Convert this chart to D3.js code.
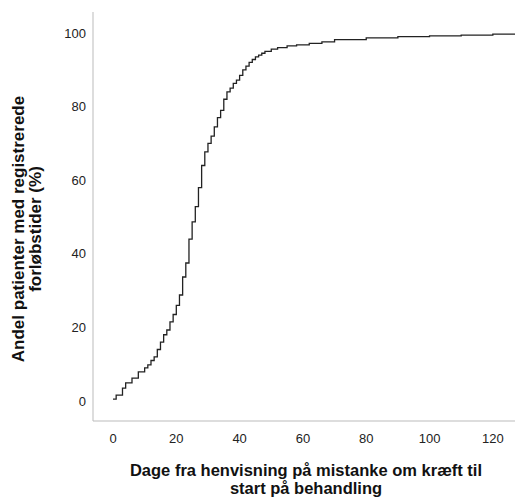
<!DOCTYPE html><html><head><meta charset="utf-8"><script src="https://cdn.jsdelivr.net/npm/d3@7"></script>
<style>body{margin:0;background:#fff}text{font-family:"Liberation Sans",Arial,sans-serif}</style></head><body>
<svg id="c" width="515" height="499"></svg>
<script>
const days = [0,1,3,4,6,8,10,11,12,13,14,15,16,17,18,19,20,21,22,23,24,25,26,27,28,29,30,31,32,33,34,35,36,37,38,39,40,41,42,43,44,45,46,47,48,50,52,55,58,62,66,70,80,90,100,110,120,127];
const pct  = [0.5,1.6,3.5,4.9,6.2,7.9,9.0,9.8,11,12,14,16,18,19.3,21.5,23.5,26,28.8,33.7,37.5,44,48.7,52.8,58,64,67.7,70,72,74.5,77,79,82,84,85,86.3,87.2,88.5,90,91,92,92.8,93.5,94,94.5,95,95.6,96,96.5,96.8,97.2,97.6,98.2,98.7,99.0,99.2,99.4,99.7,99.8];
const xTicks=[0,20,40,60,80,100,120], yTicks=[0,20,40,60,80,100];
const svg=d3.select("#c");
const x=d3.scaleLinear().domain([0,127]).range([113,515]);
const y=d3.scaleLinear().domain([0,100]).range([401,33]);
const L=93,B=421;
svg.append("line").attr("x1",L).attr("x2",L).attr("y1",12).attr("y2",B).attr("stroke","#bbb");
svg.append("line").attr("x1",L).attr("x2",515).attr("y1",B).attr("y2",B).attr("stroke","#bbb");
svg.selectAll(".yt").data(yTicks).join("text").attr("x",86).attr("y",d=>y(d)+4.5).attr("text-anchor","end").attr("font-size",13).attr("fill","#222").text(d=>d);
svg.selectAll(".xt").data(xTicks).join("text").attr("x",d=>x(d)).attr("y",443).attr("text-anchor","middle").attr("font-size",13).attr("fill","#222").text(d=>d);
const line=d3.line().x((d,i)=>x(days[i])).y(d=>y(d)).curve(d3.curveStepAfter);
svg.append("path").attr("d",line(pct)).attr("fill","none").attr("stroke","#222").attr("stroke-width",1.3);
const yl=svg.append("text").attr("transform","translate(24,229) rotate(-90)").attr("text-anchor","middle").attr("font-size",17).attr("font-weight","bold").attr("fill","#111");
yl.append("tspan").attr("x",0).attr("dy",0).text("Andel patienter med registrerede");
yl.append("tspan").attr("x",0).attr("dy",17).text("forløbstider (%)");
const xl=svg.append("text").attr("text-anchor","middle").attr("font-size",16.5).attr("font-weight","bold").attr("fill","#111");
xl.append("tspan").attr("x",306).attr("y",476).text("Dage fra henvisning på mistanke om kræft til");
xl.append("tspan").attr("x",306).attr("y",494).text("start på behandling");
</script></body></html>
